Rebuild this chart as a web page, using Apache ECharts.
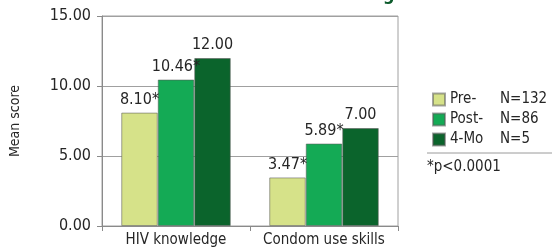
<!DOCTYPE html>
<html><head><meta charset="utf-8">
<script src="https://cdn.jsdelivr.net/npm/echarts@6/dist/echarts.min.js"></script>
<style>html,body{margin:0;padding:0;background:#fff}#c{width:560px;height:250px}</style>
</head><body><div id="c"></div>
<script>
const categories = ["HIV knowledge", "Condom use skills"];
const seriesNames = ["Pre-", "Post-", "4-Mo"];
const seriesN = ["N=132", "N=86", "N=5"];
const preValues = [8.10, 3.47];
const postValues = [10.46, 5.89];
const moValues = [12.00, 7.00];
const preSig = [true, true];
const postSig = [true, true];
const moSig = [false, false];
const yTicks = [0, 5, 10, 15];
const footnote = "*p<0.0001";

const FONT = '"Liberation Sans Narrow", "DejaVu Sans Condensed", sans-serif';
const colors = ["#d6e289", "#14aa55", "#0b642c"];
const TXT = "#262626";

function mk(name, vals, sig, i) {
  return {
    name: name, type: "bar", data: vals,
    barGap: "0%", barCategoryGap: "26%",
    itemStyle: { color: colors[i], borderColor: "rgba(90,90,90,0.55)", borderWidth: 1 },
    label: {
      show: true, position: "top", distance: 5, color: TXT, fontFamily: FONT, fontSize: 16,
      formatter: p => p.value.toFixed(2) + (sig[p.dataIndex] ? "*" : "")
    }
  };
}

const chart = echarts.init(document.getElementById("c"), null, { renderer: "canvas" });
chart.setOption({
  animation: false,
  textStyle: { fontFamily: FONT },
  grid: { left: 101, right: 162, top: 16, bottom: 24, show: true, borderColor: "#a0a0a0", borderWidth: 1 },
  xAxis: {
    type: "category", data: categories,
    axisLine: { lineStyle: { color: "#8a8a8a" } },
    axisTick: { show: true, length: 5, lineStyle: { color: "#8a8a8a" } },
    axisLabel: { color: TXT, fontFamily: FONT, fontSize: 15, margin: 7, interval: 0, hideOverlap: false }
  },
  yAxis: {
    type: "value", min: yTicks[0], max: yTicks[yTicks.length - 1], interval: 5,
    name: "Mean score", nameLocation: "middle", nameGap: 80, nameRotate: 90,
    nameTextStyle: { color: TXT, fontFamily: FONT, fontSize: 14 },
    axisLine: { show: true, lineStyle: { color: "#8a8a8a" } },
    axisTick: { show: true, length: 5, lineStyle: { color: "#8a8a8a" } },
    splitLine: { lineStyle: { color: "#a0a0a0" } },
    axisLabel: { color: TXT, fontFamily: FONT, fontSize: 16, margin: 11, formatter: v => v.toFixed(2) }
  },
  legend: {
    orient: "vertical", left: 427, top: 87, itemWidth: 12, itemHeight: 12, itemGap: 5,
    icon: "rect",
    textStyle: {
      color: TXT, fontFamily: FONT, fontSize: 15,
      rich: { a: { width: 50, fontFamily: FONT, fontSize: 15, color: TXT }, b: { fontFamily: FONT, fontSize: 15, color: TXT } }
    },
    formatter: n => "{a|" + n + "}{b|" + seriesN[seriesNames.indexOf(n)] + "}",
    data: seriesNames
  },
  graphic: [
    { type: "line", shape: { x1: 427, y1: 153, x2: 552, y2: 153 }, style: { stroke: "#9a9a9a", lineWidth: 1 } },
    { type: "text", left: 427, top: 160, style: { text: footnote, fill: TXT, font: "15px " + FONT } },
    { type: "text", left: 383, top: -14, style: { text: "g", fill: "#0b5a2a", font: "bold 18px " + FONT } }
  ],
  series: [
    mk(seriesNames[0], preValues, preSig, 0),
    mk(seriesNames[1], postValues, postSig, 1),
    mk(seriesNames[2], moValues, moSig, 2)
  ]
});
</script></body></html>
